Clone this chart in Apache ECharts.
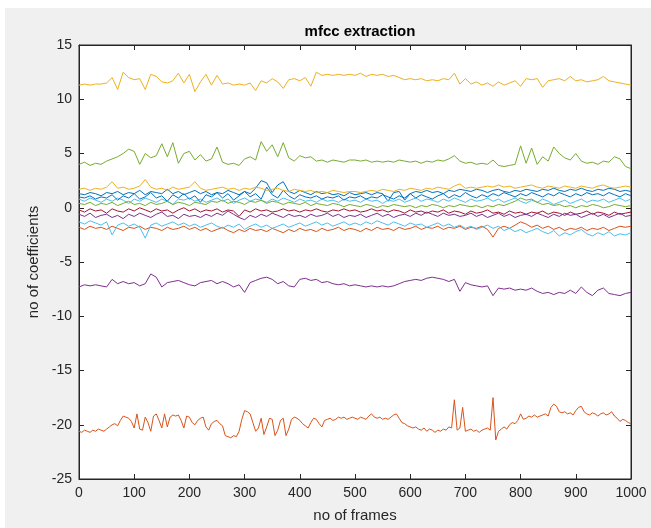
<!DOCTYPE html>
<html><head><meta charset="utf-8">
<script src="https://cdn.jsdelivr.net/npm/echarts@6/dist/echarts.min.js"></script>
<style>
html,body{margin:0;padding:0;background:#fff;}
#wrap{position:relative;width:651px;height:528px;overflow:hidden;background:#fff;}
#bg{position:absolute;left:5px;top:8px;right:0;bottom:0;background:#f0f0f0;}
#c{position:absolute;left:0;top:0;width:651px;height:528px;}
</style></head>
<body><div id="wrap"><div id="bg"></div><div id="c"></div></div>
<script>
// frames step: 10 for most coefficients, 5 for coefficient 2
const xTicks = [0,100,200,300,400,500,600,700,800,900,1000];
const yTicks = [-25,-20,-15,-10,-5,0,5,10,15];
const colors = ['#0072BD','#D95319','#EDB120','#7E2F8E','#77AC30','#4DBEEE','#A2142F'];

const coef1 = [1.3,1.2,1.4,1.3,1.1,1.4,1.3,1.5,1.2,1.4,
1.3,1.6,1.2,1.5,1.4,1.3,1.7,1.3,1.5,1.2,
1.4,1.6,1.3,1.5,1.2,1.4,1.3,1.6,1.4,1.2,
1.5,1.3,1.8,2.5,2.3,1.4,2.1,2.4,1.5,1.3,
1.6,1.4,1.2,1.5,1.3,1.4,1.2,1.3,1.1,1.4,
1.2,1.3,1.4,1.2,1.4,1.3,0.6,1.4,1.5,0.7,
1.3,1.5,1.4,1.6,1.4,1.5,1.3,1.6,1.5,1.7,
1.6,1.5,1.7,1.6,1.4,1.6,1.7,1.5,1.4,1.6,
1.5,1.7,1.6,1.5,1.7,1.6,1.8,1.6,1.5,1.7,
1.6,1.8,1.6,1.5,1.7,1.6,1.8,1.7,1.5,1.6,
1.5];
const coef2 = [-20.6,-20.7,-20.5,-20.6,-20.7,-20.5,-20.6,-20.4,-20.5,-20.6,-20.4,-20.2,-20.0,-19.9,-20.1,-19.6,-19.2,-19.3,-19.4,-19.7,
-20.3,-19.0,-20.4,-20.5,-19.3,-19.8,-20.6,-19.2,-19.0,-19.6,-20.3,-19.0,-20.2,-19.3,-19.1,-19.2,-19.1,-19.6,-20.3,-19.2,
-19.3,-19.8,-20.0,-19.6,-19.4,-19.3,-20.2,-20.5,-19.9,-19.7,-19.6,-19.9,-20.1,-21.0,-21.1,-21.2,-21.0,-21.1,-20.6,-19.5,
-18.7,-18.8,-19.0,-19.8,-20.6,-20.3,-19.4,-20.9,-20.2,-19.4,-19.5,-21.0,-20.5,-19.6,-19.4,-21.0,-20.4,-19.5,-19.3,-19.4,
-19.6,-19.9,-20.1,-20.3,-19.8,-19.4,-19.5,-19.9,-20.2,-19.6,-19.5,-19.4,-19.6,-19.5,-19.3,-19.4,-19.3,-19.5,-19.4,-19.3,
-19.4,-19.5,-19.3,-19.4,-19.5,-19.2,-19.0,-19.3,-19.4,-19.3,-19.5,-19.4,-19.5,-19.3,-19.1,-19.0,-19.4,-19.8,-19.9,-20.1,
-20.2,-20.3,-20.2,-20.4,-20.5,-20.3,-20.6,-20.4,-20.5,-20.7,-20.5,-20.6,-20.4,-20.5,-20.2,-20.3,-17.7,-20.5,-20.3,-18.4,
-20.6,-20.5,-20.4,-20.6,-20.5,-20.7,-20.5,-20.4,-20.3,-20.5,-17.5,-21.4,-20.6,-20.4,-20.2,-20.4,-20.0,-19.8,-19.9,-19.6,
-19.0,-19.5,-19.4,-19.2,-19.3,-19.1,-19.3,-19.2,-19.1,-19.0,-19.2,-18.4,-18.1,-18.3,-18.8,-18.9,-18.8,-19.0,-18.9,-19.1,
-18.7,-18.4,-18.3,-18.8,-19.0,-19.1,-18.9,-19.0,-19.2,-19.0,-18.9,-19.1,-19.0,-18.8,-19.2,-19.4,-19.7,-19.5,-19.6,-19.8,
-19.9];
const coef3 = [11.3,11.4,11.3,11.4,11.4,11.5,12.0,10.9,12.5,12.0,
11.8,11.9,10.9,12.3,12.1,11.6,11.5,11.7,12.4,11.5,
12.3,10.7,11.6,12.3,11.3,12.2,11.4,11.5,11.3,11.4,
11.3,11.5,10.8,11.7,11.5,11.9,11.6,11.0,11.8,11.9,
11.7,12.0,11.2,12.5,12.2,12.3,12.2,12.3,12.2,12.3,
12.2,12.4,12.1,12.3,12.2,12.3,12.1,12.2,12.0,11.8,
11.9,11.8,11.9,11.7,11.8,11.7,11.9,11.8,12.4,11.4,
11.9,11.4,11.6,11.3,11.5,11.2,11.6,11.3,11.5,11.7,
11.2,11.9,11.8,11.9,11.1,11.7,11.8,11.9,11.7,12.1,
11.7,11.8,11.6,11.7,11.8,12.1,11.7,11.6,11.5,11.4,
11.3];
const coef4 = [-7.3,-7.1,-7.2,-7.1,-7.2,-7.3,-6.6,-7.0,-6.8,-7.0,
-6.9,-7.2,-7.0,-6.1,-6.4,-7.3,-6.9,-6.8,-6.7,-6.9,
-7.1,-7.2,-6.9,-6.8,-6.7,-7.0,-6.8,-7.0,-7.3,-7.1,
-7.8,-6.9,-6.7,-6.5,-6.4,-6.6,-7.0,-6.8,-7.2,-7.3,
-6.6,-6.5,-6.7,-6.6,-6.9,-6.8,-7.0,-7.1,-7.0,-7.2,
-7.1,-7.2,-7.3,-7.2,-7.3,-7.2,-7.3,-7.2,-7.0,-6.8,
-6.7,-6.6,-6.7,-6.5,-6.4,-6.5,-6.6,-6.8,-6.6,-7.7,
-6.9,-7.1,-7.2,-7.3,-7.2,-8.1,-7.4,-7.5,-7.4,-7.6,
-7.5,-7.6,-7.4,-7.7,-7.9,-7.8,-8.0,-7.8,-7.9,-7.6,
-7.9,-7.3,-7.8,-8.1,-7.6,-7.4,-7.9,-8.0,-8.1,-7.9,
-7.8];
const coef5 = [4.0,4.2,3.9,4.1,4.0,4.3,4.5,4.7,5.0,5.4,
5.2,4.0,5.0,4.6,4.8,5.9,4.7,6.0,4.1,5.0,
5.2,4.4,4.9,4.3,4.5,5.6,4.2,4.0,4.1,3.9,
4.5,4.7,4.4,6.1,5.2,5.8,4.7,6.0,4.6,4.3,
4.8,4.6,4.7,4.3,4.4,4.2,4.4,4.3,4.2,4.4,
4.4,4.3,4.4,4.2,4.3,4.2,4.3,4.2,4.4,4.3,
4.2,4.3,4.1,4.3,4.2,4.4,4.3,4.5,4.8,4.3,
4.1,4.2,4.0,4.1,4.0,4.4,3.9,3.8,3.9,4.0,
5.7,4.1,5.5,4.0,4.7,4.3,5.6,5.0,4.6,4.4,
5.0,4.3,4.1,4.2,4.0,4.3,4.2,4.7,4.5,3.8,
3.6];
const coef6 = [0.8,0.6,0.9,0.7,0.5,0.8,0.6,0.9,0.7,0.4,
0.8,0.6,0.9,0.7,0.5,0.8,0.6,0.3,0.8,0.7,
0.9,0.6,0.8,0.5,0.7,0.9,0.6,0.8,0.4,0.7,
0.9,0.6,0.8,0.7,0.5,0.8,0.6,0.9,0.7,0.5,
0.8,0.6,0.7,0.5,0.8,0.6,0.7,0.5,0.8,0.6,
0.7,0.5,0.8,0.6,0.7,0.4,0.7,0.6,0.8,0.5,
0.7,0.9,0.6,0.8,0.7,0.5,0.8,0.6,0.9,0.7,
0.5,0.8,0.6,0.7,0.9,0.6,0.8,0.5,0.7,0.9,
0.6,0.4,0.7,0.5,0.8,0.6,0.3,0.5,0.7,0.4,
0.6,0.8,0.5,0.7,0.6,0.8,0.5,0.7,0.9,0.6,
0.8];
const coef7 = [-0.2,-0.4,-0.1,-0.3,-0.2,-0.5,-0.1,-0.3,-0.4,-0.1,
-0.3,0.0,-0.2,-0.4,-0.1,-0.3,-0.2,-0.5,-0.2,0.0,
-0.3,-0.1,-0.4,-0.2,-0.3,-0.1,-0.4,-0.2,-0.3,-0.8,
-0.2,-0.4,-0.1,-0.3,-0.2,-0.4,-0.3,-0.1,-0.3,-0.2,
-0.4,-0.2,-0.3,-0.1,-0.3,-0.4,-0.2,-0.3,-0.1,-0.3,
-0.2,-0.4,-0.3,-0.1,-0.3,-0.2,-0.4,-0.2,-0.3,-0.5,
-0.2,-0.4,-0.3,-0.5,-0.3,-0.4,-0.2,-0.5,-0.3,-0.4,
-0.6,-0.3,-0.5,-0.4,-0.2,-0.5,-0.4,-0.6,-0.3,-0.5,
-0.4,-0.6,-0.4,-0.5,-0.3,-0.6,-0.4,-0.5,-0.7,-0.4,
-0.6,-0.5,-0.3,-0.6,-0.4,-0.5,-0.7,-0.4,-0.6,-0.5,
-0.4];
const coef8 = [1.0,0.9,1.1,0.8,1.0,0.9,1.2,0.7,1.1,0.9,
1.3,0.8,1.0,1.4,0.9,1.1,0.6,1.2,0.9,1.3,
0.8,1.1,0.5,1.2,1.0,1.4,0.9,1.3,0.7,1.1,
1.5,1.0,1.3,0.8,1.9,1.2,0.9,1.6,1.1,0.8,
1.2,1.0,0.9,1.1,0.8,1.0,0.9,1.1,0.7,1.0,
0.9,1.1,0.8,1.0,0.9,1.2,1.0,0.8,1.1,0.9,
1.3,0.9,1.2,1.0,0.8,1.1,1.3,0.9,1.2,1.0,
1.4,1.1,0.9,1.2,1.0,1.3,1.1,1.4,1.2,1.0,
1.3,1.1,1.4,1.2,1.0,1.3,1.1,1.4,1.2,1.0,
1.3,1.1,1.4,1.2,1.3,1.1,1.4,1.2,1.0,1.3,
1.1];
const coef9 = [-1.8,-2.0,-1.7,-1.9,-1.8,-2.0,-1.7,-1.9,-2.1,-1.8,
-1.9,-1.7,-2.0,-1.8,-1.9,-2.1,-1.8,-2.0,-1.9,-1.7,
-2.0,-1.8,-2.1,-1.9,-2.2,-2.0,-1.8,-2.1,-2.3,-2.0,
-2.2,-1.9,-2.1,-2.0,-2.2,-1.9,-2.1,-2.3,-2.0,-2.2,
-1.9,-2.1,-2.0,-2.2,-1.9,-2.1,-2.0,-1.8,-2.1,-1.9,
-2.0,-2.2,-1.9,-2.1,-1.8,-2.0,-1.9,-2.1,-1.8,-2.0,
-1.9,-1.7,-2.0,-1.8,-1.9,-1.7,-2.0,-1.8,-1.9,-1.7,
-2.0,-1.8,-1.9,-1.7,-2.0,-2.7,-1.9,-1.7,-1.9,-1.6,
-1.3,-1.5,-1.8,-1.6,-1.9,-1.7,-2.0,-1.8,-2.1,-1.9,
-2.0,-1.8,-2.1,-1.9,-2.0,-1.8,-2.1,-1.9,-1.7,-1.8,
-1.7];
const coef10 = [1.7,1.8,1.6,1.8,1.7,1.9,2.4,1.8,1.9,1.7,
1.8,2.0,2.6,1.9,1.7,1.8,1.6,1.9,1.7,1.8,
1.9,2.4,1.8,1.6,1.7,1.8,1.9,1.7,1.8,1.6,
1.8,1.7,1.9,1.8,1.6,1.7,1.8,1.6,1.5,1.7,
1.6,1.5,1.6,1.4,1.5,1.4,1.6,1.5,1.4,1.5,
1.5,1.4,1.5,1.6,1.5,1.7,1.6,1.5,1.7,1.6,
1.8,1.7,1.6,1.8,1.7,1.9,1.8,1.7,2.0,2.2,
1.8,1.9,1.8,1.9,2.0,1.9,2.1,1.9,2.0,1.8,
1.9,2.0,2.1,1.9,1.8,2.0,1.9,1.8,2.0,1.9,
1.8,2.0,1.9,1.8,2.0,2.1,1.9,1.8,1.9,2.0,
1.9];
const coef11 = [-0.6,-0.8,-0.5,-0.9,-0.7,-0.6,-0.9,-0.7,-1.0,-0.6,
-0.8,-0.5,-0.7,-0.9,-0.6,-0.4,-0.8,-0.7,-1.0,-0.6,
-0.8,-0.7,-0.9,-0.6,-0.8,-0.5,-0.7,-0.3,-0.6,-0.9,
-1.1,-0.7,-0.9,-0.6,-0.8,-0.5,-0.7,-0.9,-0.6,-0.8,
-0.7,-0.9,-0.6,-0.8,-0.7,-0.5,-0.8,-0.6,-0.9,-0.7,
-0.8,-0.6,-0.9,-0.7,-0.5,-0.8,-0.6,-0.9,-0.7,-0.6,
-0.8,-0.5,-0.7,-0.4,-0.6,-0.8,-0.5,-0.7,-0.6,-0.8,
-0.7,-0.5,-0.8,-0.6,-0.9,-0.7,-0.5,-0.8,-0.6,-0.9,
-0.7,-0.6,-0.8,-0.5,-0.7,-0.9,-0.6,-0.8,-0.5,-0.7,
-0.6,-0.9,-0.7,-0.5,-0.8,-0.6,-0.9,-0.7,-0.5,-0.8,
-0.7];
const coef12 = [0.4,0.3,0.5,0.2,0.4,0.3,0.5,0.2,0.4,0.6,
0.3,0.4,0.2,0.5,0.3,0.4,0.6,0.3,0.5,0.4,
0.2,0.5,0.4,0.3,0.6,0.5,0.7,0.4,0.6,0.5,
0.3,0.6,0.5,0.7,0.4,0.6,0.5,0.3,0.5,0.4,
0.3,0.5,0.2,0.4,0.3,0.2,0.4,0.3,0.1,0.3,
0.2,0.1,0.3,0.2,0.0,0.2,0.1,0.3,0.2,0.1,
0.2,0.0,0.2,0.1,0.3,0.2,0.0,0.2,0.1,0.3,
0.2,0.1,0.2,0.0,0.2,0.1,0.3,0.2,0.4,0.6,
0.9,0.7,0.8,0.5,0.3,0.4,0.2,0.3,0.1,0.2,
0.0,0.2,0.1,0.3,0.2,0.0,0.1,0.3,0.2,0.1,
0.2];
const coef13 = [-1.3,-1.5,-1.2,-1.4,-1.6,-1.3,-2.5,-1.6,-1.4,-1.7,
-1.5,-1.8,-2.8,-1.6,-1.4,-1.7,-1.5,-1.3,-1.6,-1.4,
-1.7,-1.5,-1.8,-1.6,-1.4,-1.7,-1.9,-1.6,-1.8,-1.5,
-2.0,-1.7,-1.5,-1.8,-1.6,-1.9,-1.7,-1.5,-1.8,-1.6,
-1.4,-1.7,-1.5,-1.3,-1.6,-1.4,-1.7,-1.5,-1.3,-1.6,
-1.4,-1.6,-1.3,-1.5,-1.2,-1.4,-1.6,-1.3,-1.5,-1.7,
-1.4,-1.6,-1.5,-1.8,-1.6,-1.4,-1.7,-1.5,-1.8,-1.6,
-1.9,-1.7,-2.0,-1.8,-1.6,-1.9,-1.7,-2.1,-1.9,-2.2,
-2.0,-2.3,-2.1,-1.9,-2.2,-2.4,-2.1,-2.6,-2.3,-2.5,
-2.2,-2.0,-2.4,-2.6,-2.3,-2.5,-2.2,-2.6,-2.4,-2.5,
-2.3];

const coefs = [coef1,coef2,coef3,coef4,coef5,coef6,coef7,coef8,coef9,coef10,coef11,coef12,coef13];
const steps = [10,5,10,10,10,10,10,10,10,10,10,10,10];

const series = coefs.map((arr, k) => ({
  type: 'line',
  name: 'c' + (k + 1),
  data: arr.map((v, i) => [i * steps[k], v]),
  showSymbol: false,
  symbol: 'none',
  lineStyle: { width: 1, color: colors[k % 7] },
  itemStyle: { color: colors[k % 7] },
  xAxisIndex: 0, yAxisIndex: 0,
  animation: false
}));

const fontFam = '"Liberation Sans", Arial, Helvetica, sans-serif';
const axisCommon = {
  type: 'value',
  axisLine: { show: true, onZero: false, lineStyle: { color: '#262626', width: 1 } },
  axisTick: { show: true, inside: true, length: 5, lineStyle: { color: '#262626', width: 1 } },
  splitLine: { show: false }
};
const plain = v => String(v);

const chart = echarts.init(document.getElementById('c'), null, { renderer: 'canvas' });
chart.setOption({
  animation: false,
  backgroundColor: 'transparent',
  title: {
    text: 'mfcc extraction', left: 355, top: 19, textAlign: 'center',
    textStyle: { fontFamily: fontFam, fontSize: 15, fontWeight: 'bold', color: '#000' }
  },
  grid: { left: 79, right: 20, top: 45, bottom: 46, show: true, backgroundColor: '#fff', borderColor: '#262626', borderWidth: 1 },
  xAxis: [
    Object.assign({}, axisCommon, {
      min: xTicks[0], max: xTicks[xTicks.length - 1], interval: xTicks[1] - xTicks[0], position: 'bottom',
      name: 'no of frames', nameLocation: 'middle', nameGap: 29,
      nameTextStyle: { fontFamily: fontFam, fontSize: 15, color: '#262626' },
      axisLabel: { margin: 7, fontFamily: fontFam, fontSize: 14, color: '#262626', formatter: plain }
    }),
    Object.assign({}, axisCommon, {
      min: xTicks[0], max: xTicks[xTicks.length - 1], interval: xTicks[1] - xTicks[0], position: 'top',
      axisLabel: { show: false }
    })
  ],
  yAxis: [
    Object.assign({}, axisCommon, {
      min: yTicks[0], max: yTicks[yTicks.length - 1], interval: yTicks[1] - yTicks[0], position: 'left',
      name: 'no of coefficients', nameLocation: 'middle', nameGap: 38,
      nameTextStyle: { fontFamily: fontFam, fontSize: 15, color: '#262626' },
      axisLabel: { margin: 7, fontFamily: fontFam, fontSize: 14, color: '#262626', formatter: plain }
    }),
    Object.assign({}, axisCommon, {
      min: yTicks[0], max: yTicks[yTicks.length - 1], interval: yTicks[1] - yTicks[0], position: 'right',
      axisLabel: { show: false }
    })
  ],
  series: series
});
</script></body></html>
